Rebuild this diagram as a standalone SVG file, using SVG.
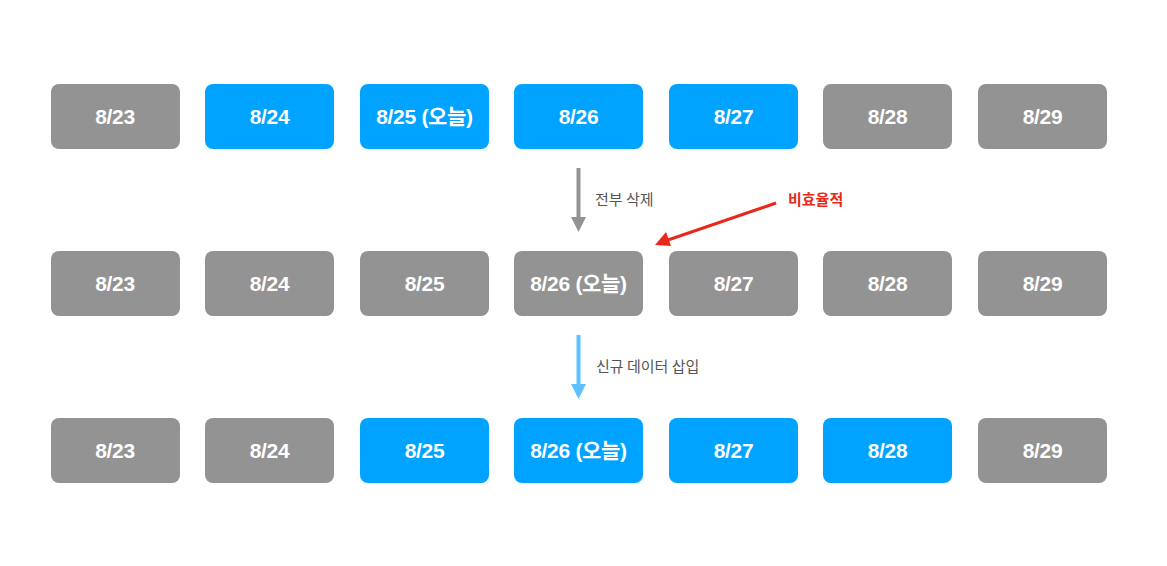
<svg xmlns="http://www.w3.org/2000/svg" width="1167" height="566" viewBox="0 0 1167 566">
<style>
.b rect{rx:8;ry:8}
.g rect{fill:#939393}
.u rect{fill:#00A3FF}
.b text{font-family:"Liberation Sans","Noto Sans CJK KR",sans-serif;font-size:21px;font-weight:bold;fill:#fff;text-anchor:middle;letter-spacing:-0.3px}
.lbl{font-family:"Noto Sans CJK KR","Noto Sans",sans-serif;font-size:15px;fill:#555}
</style>
<g id="r1">
<g id="n1-23" class="b g"><rect x="51" y="84" width="129" height="65"/><text x="115" y="123.5">8/23</text></g>
<g id="n1-24" class="b u"><rect x="205" y="84" width="129" height="65"/><text x="269.5" y="123.5">8/24</text></g>
<g id="n1-25" class="b u"><rect x="360" y="84" width="129" height="65"/><text x="424.5" y="123.5">8/25 (오늘)</text></g>
<g id="n1-26" class="b u"><rect x="514" y="84" width="129" height="65"/><text x="578.5" y="123.5">8/26</text></g>
<g id="n1-27" class="b u"><rect x="669" y="84" width="129" height="65"/><text x="733.5" y="123.5">8/27</text></g>
<g id="n1-28" class="b g"><rect x="823" y="84" width="129" height="65"/><text x="887.5" y="123.5">8/28</text></g>
<g id="n1-29" class="b g"><rect x="978" y="84" width="129" height="65"/><text x="1042.5" y="123.5">8/29</text></g>
</g>
<g id="r2">
<g id="n2-23" class="b g"><rect x="51" y="251" width="129" height="65"/><text x="115" y="290.5">8/23</text></g>
<g id="n2-24" class="b g"><rect x="205" y="251" width="129" height="65"/><text x="269.5" y="290.5">8/24</text></g>
<g id="n2-25" class="b g"><rect x="360" y="251" width="129" height="65"/><text x="424.5" y="290.5">8/25</text></g>
<g id="n2-26" class="b g"><rect x="514" y="251" width="129" height="65"/><text x="578.5" y="290.5">8/26 (오늘)</text></g>
<g id="n2-27" class="b g"><rect x="669" y="251" width="129" height="65"/><text x="733.5" y="290.5">8/27</text></g>
<g id="n2-28" class="b g"><rect x="823" y="251" width="129" height="65"/><text x="887.5" y="290.5">8/28</text></g>
<g id="n2-29" class="b g"><rect x="978" y="251" width="129" height="65"/><text x="1042.5" y="290.5">8/29</text></g>
</g>
<g id="r3">
<g id="n3-23" class="b g"><rect x="51" y="418" width="129" height="65"/><text x="115" y="457.5">8/23</text></g>
<g id="n3-24" class="b g"><rect x="205" y="418" width="129" height="65"/><text x="269.5" y="457.5">8/24</text></g>
<g id="n3-25" class="b u"><rect x="360" y="418" width="129" height="65"/><text x="424.5" y="457.5">8/25</text></g>
<g id="n3-26" class="b u"><rect x="514" y="418" width="129" height="65"/><text x="578.5" y="457.5">8/26 (오늘)</text></g>
<g id="n3-27" class="b u"><rect x="669" y="418" width="129" height="65"/><text x="733.5" y="457.5">8/27</text></g>
<g id="n3-28" class="b u"><rect x="823" y="418" width="129" height="65"/><text x="887.5" y="457.5">8/28</text></g>
<g id="n3-29" class="b g"><rect x="978" y="418" width="129" height="65"/><text x="1042.5" y="457.5">8/29</text></g>
</g>
<g id="connectors">
<line x1="578.5" y1="168" x2="578.5" y2="218" stroke="#939393" stroke-width="4"/>
<path d="M571,217 L586,217 L578.5,232 Z" fill="#939393"/>
<line x1="578.5" y1="335" x2="578.5" y2="385" stroke="#5BC2FF" stroke-width="4"/>
<path d="M571,384 L586,384 L578.5,399 Z" fill="#5BC2FF"/>
<line x1="776" y1="203" x2="668" y2="240" stroke="#E8281B" stroke-width="3"/>
<path d="M655,245 L666,232 L671,246 Z" fill="#E8281B"/>
</g>
<g id="labels">
<text class="lbl" x="595" y="204.5">전부 삭제</text>
<text class="lbl" x="596" y="371.5">신규 데이터 삽입</text>
<text x="788" y="204.5" font-family="'Noto Sans CJK KR',sans-serif" font-size="15" font-weight="bold" fill="#E8281B">비효율적</text>
</g>
</svg>
